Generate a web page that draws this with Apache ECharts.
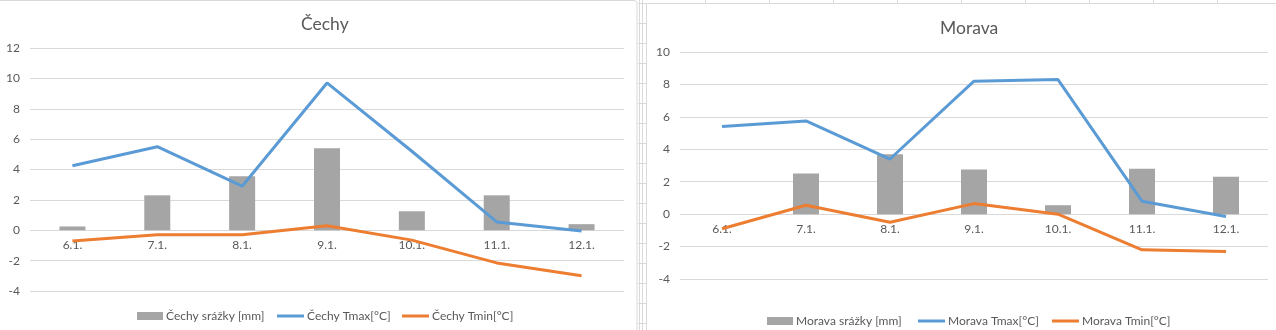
<!DOCTYPE html>
<html>
<head>
<meta charset="utf-8">
<script src="https://cdn.jsdelivr.net/npm/echarts@6/dist/echarts.min.js"></script>
<style>
html,body{margin:0;padding:0;background:#fff;}
#c{width:1276px;height:330px;}
</style>
</head>
<body>
<div id="c"></div>
<script>
const categories = ['6.1.', '7.1.', '8.1.', '9.1.', '10.1.', '11.1.', '12.1.'];
const cechySrazky = [0.25, 2.3, 3.55, 5.4, 1.25, 2.3, 0.4];
const cechyTmax = [4.25, 5.5, 2.9, 9.7, 5.2, 0.55, -0.05];
const cechyTmin = [-0.7, -0.3, -0.3, 0.3, -0.65, -2.15, -3.0];
const moravaSrazky = [0, 2.5, 3.7, 2.75, 0.55, 2.8, 2.3];
const moravaTmax = [5.4, 5.75, 3.4, 8.2, 8.3, 0.8, -0.15];
const moravaTmin = [-0.9, 0.55, -0.5, 0.65, 0, -2.2, -2.3];
const cechyTicks = [-4, 12, 2];
const moravaTicks = [-4, 10, 2];

const FONT = 'Lato, Carlito, "Liberation Sans Narrow", sans-serif';
const TXT = '#595959';
const GRID = '#d9d9d9';
const BAR = '#A5A5A5', BLUE = '#5B9BD5', ORANGE = '#ED7D31';

// background decorations (sheet cell lines and chart frames)
const graphics = [];
graphics.push({type:'rect', shape:{x:-5, y:0.5, width:642, height:340, r:3}, style:{fill:'none', stroke:GRID, lineWidth:1}, silent:true, z:-10});
[639.5, 642.5].forEach(x => graphics.push({type:'line', shape:{x1:x, y1:0, x2:x, y2:330}, style:{stroke:GRID, lineWidth:1}, silent:true, z:-10}));
for (let y = 23.5; y < 330; y += 20) {
  graphics.push({type:'line', shape:{x1:638, y1:y, x2:646, y2:y}, style:{stroke:GRID, lineWidth:1}, silent:true, z:-10});
}
graphics.push({type:'line', shape:{x1:638, y1:3.5, x2:1276, y2:3.5}, style:{stroke:GRID, lineWidth:1}, silent:true, z:-10});
graphics.push({type:'line', shape:{x1:646.5, y1:3.5, x2:646.5, y2:330}, style:{stroke:GRID, lineWidth:1}, silent:true, z:-10});
for (let x = 705.5; x < 1276; x += 64) {
  graphics.push({type:'line', shape:{x1:x, y1:0, x2:x, y2:3.5}, style:{stroke:GRID, lineWidth:1}, silent:true, z:-10});
}

function yAxis(idx, t) {
  return {
    type:'value', gridIndex:idx, min:t[0], max:t[1], interval:t[2],
    axisLine:{show:false}, axisTick:{show:false},
    splitLine:{lineStyle:{color:GRID, width:1}},
    axisLabel:{color:TXT, fontFamily:FONT, fontSize:12, margin:10}
  };
}
// category labels sit just under the zero line, as in the spreadsheet chart
function xAxis(idx, offset) {
  return {
    type:'category', gridIndex:idx, data:categories, position:'bottom', offset:offset,
    axisLine:{show:false, onZero:false},
    axisTick:{show:false},
    axisLabel:{color:TXT, fontFamily:FONT, fontSize:12, margin:9, interval:0}
  };
}
function series(idx, name, type, data, color) {
  const s = {name, type, data, xAxisIndex:idx, yAxisIndex:idx, itemStyle:{color}};
  if (type === 'bar') {
    s.barWidth = 26;
    s.z = 2;
  } else {
    s.symbol = 'none';
    s.showSymbol = false;
    s.lineStyle = {color, width:3};
    s.z = 3;
  }
  return s;
}
function legend(name, left, top, isLine) {
  return {
    left, top, padding:0, itemGap:0,
    itemWidth: isLine ? 27 : 26, itemHeight: isLine ? 3 : 8,
    textStyle:{color:TXT, fontFamily:FONT, fontSize:12, padding:[0,0,0,-2]},
    data:[{name, icon:'rect'}]
  };
}

const chart = echarts.init(document.getElementById('c'), null, {renderer:'canvas'});
chart.setOption({
  animation:false,
  backgroundColor:'#fff',
  textStyle:{fontFamily:FONT},
  graphic:graphics,
  title:[
    {text:'Čechy', left:296, top:10, textStyle:{color:TXT, fontFamily:FONT, fontSize:17.5, fontWeight:'normal'}},
    {text:'Morava', left:935, top:14, textStyle:{color:TXT, fontFamily:FONT, fontSize:17.5, fontWeight:'normal'}}
  ],
  legend:[
    legend('Čechy srážky [mm]', 137, 310, false),
    legend('Čechy Tmax[°C]', 277, 310, true),
    legend('Čechy Tmin[°C]', 402, 310, true),
    legend('Morava srážky [mm]', 767, 315, false),
    legend('Morava Tmax[°C]', 918, 315, true),
    legend('Morava Tmin[°C]', 1052, 315, true)
  ],
  grid:[
    {left:30, top:48, width:594, height:243},
    {left:680, top:52, width:588, height:227}
  ],
  xAxis:[xAxis(0, -60.5), xAxis(1, -65)],
  yAxis:[yAxis(0, cechyTicks), yAxis(1, moravaTicks)],
  series:[
    series(0, 'Čechy srážky [mm]', 'bar', cechySrazky, BAR),
    series(0, 'Čechy Tmax[°C]', 'line', cechyTmax, BLUE),
    series(0, 'Čechy Tmin[°C]', 'line', cechyTmin, ORANGE),
    series(1, 'Morava srážky [mm]', 'bar', moravaSrazky, BAR),
    series(1, 'Morava Tmax[°C]', 'line', moravaTmax, BLUE),
    series(1, 'Morava Tmin[°C]', 'line', moravaTmin, ORANGE)
  ]
});
</script>
</body>
</html>
